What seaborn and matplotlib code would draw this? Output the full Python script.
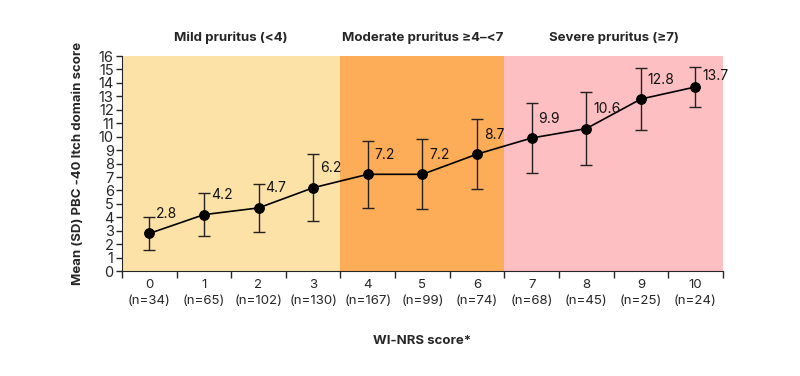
import pandas as pd
import numpy as np
import matplotlib.pyplot as plt
import seaborn as sns

# data
scores = [0, 1, 2, 3, 4, 5, 6, 7, 8, 9, 10]
n_counts = [34, 65, 102, 130, 167, 99, 74, 68, 45, 25, 24]
means = [2.8, 4.2, 4.7, 6.2, 7.2, 7.2, 8.7, 9.9, 10.6, 12.8, 13.7]
sds = [1.25, 1.6, 1.8, 2.5, 2.5, 2.6, 2.6, 2.6, 2.7, 2.3, 1.5]

bands = ['Mild pruritus (<4)', 'Moderate pruritus \u22654\u2013<7', 'Severe pruritus (\u22657)']
band_edges = [(-0.5, 3.5), (3.5, 6.5), (6.5, 10.5)]
band_colors = ['#fde2a8', '#fdad58', '#fdbfc2']

sns.set_style('ticks')
plt.rcParams['font.family'] = ['Inter', 'DejaVu Sans']

df = pd.DataFrame({'score': scores, 'mean': means, 'sd': sds})

fig = plt.figure(figsize=(8, 3.76), dpi=100)
ax = fig.add_axes([0.1525, 0.279, 0.751, 0.572])

for (lo, hi), c in zip(band_edges, band_colors):
    ax.axvspan(lo, hi, color=c, lw=0, zorder=0)

ax.errorbar(df['score'], df['mean'], yerr=df['sd'], fmt='none',
            ecolor='#222222', elinewidth=1, capsize=4, capthick=1, zorder=2)
sns.lineplot(data=df, x='score', y='mean', ax=ax, color='black', lw=1.2,
             marker='o', markersize=7, markeredgecolor='black', zorder=3)

for x, m in zip(scores, means):
    dy = 8 if x == 10 else 14
    ax.annotate(f'{m}', (x, m), xytext=(5, dy), textcoords='offset points',
                ha='left', va='center', fontsize=10, color='#111111')

ax.set_xlim(-0.5, 10.5)
ax.set_ylim(0, 16)
ax.set_yticks(range(0, 17))
ax.set_xticks(scores)
ax.set_xticklabels([f'{s}\n(n={n})' for s, n in zip(scores, n_counts)],
                   fontsize=9.5, linespacing=1.45)
ax.set_xticks(np.arange(-0.5, 11, 1), minor=True)
ax.tick_params(axis='x', which='major', length=0, pad=6)
ax.tick_params(axis='x', which='minor', length=5, width=1)
ax.tick_params(axis='y', length=4, width=1, labelsize=10.5, pad=2)
for s in ['top', 'right']:
    ax.spines[s].set_visible(False)

ax.set_xlabel('WI-NRS score*', fontsize=9.5, fontweight='bold', labelpad=20)
ax.set_ylabel('Mean (SD) PBC -40 Itch domain score', fontsize=9.5, fontweight='bold', labelpad=10)

for name, (lo, hi) in zip(bands, band_edges):
    ax.text((lo + hi) / 2, 16.9, name, ha='center', va='bottom',
            fontsize=9.5, fontweight='bold')

fig.savefig('out.png', dpi=100)
